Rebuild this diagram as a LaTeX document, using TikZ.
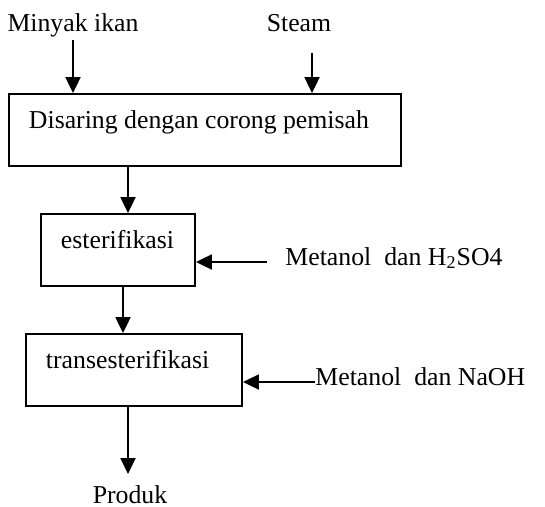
\documentclass[tikz,border=0pt]{standalone}
\usepackage{fontspec}
\setmainfont{Liberation Serif}
\usetikzlibrary{arrows.meta}

\begin{document}
\begin{tikzpicture}[%
  x=0.015cm, y=-0.015cm,
  font=\fontsize{11}{13}\selectfont,
  box/.style={draw, line width=0.8pt, inner xsep=3mm, text width=#1,
    align=flush left, minimum height=1.08cm, text height=2.4mm, text depth=3mm},
  arr/.style={line width=0.8pt, -{Triangle[length=6.8pt,width=6.4pt]}},
  lbl/.style={inner sep=0pt},
]
  \useasboundingbox (0,0) rectangle (545,506);

  % inputs
  \node[lbl, anchor=base] (minyak) at (73,31) {Minyak ikan};
  \node[lbl, anchor=base] (steam) at (299,31) {Steam};

  % process steps
  \node[box=5.28cm] (disaring) at (205,130) {Disaring dengan corong pemisah};
  \node[box=1.71cm] (ester) at (118,250) {esterifikasi};
  \node[box=2.64cm] (trans) at (134,370) {transesterifikasi};

  \node[lbl, anchor=base west] (h2so4) at (285,265) {Metanol\ \ dan H\textsubscript{2}SO4};
  \node[lbl, anchor=base west] (naoh) at (315,385) {Metanol\ \ dan NaOH};
  \node[lbl, anchor=base] (produk) at (130,503) {Produk};

  \coordinate (minyakin) at (73,40);
  \coordinate (steamin) at (312,53);
  \coordinate (lineA) at (128,0);
  \coordinate (lineB) at (123,0);
  \coordinate (h2so4in) at (267,262);
  \coordinate (naohin) at (315,382);
  \coordinate (produkin) at (128,474);

  \draw[arr] (minyakin) -- (minyakin |- disaring.north);
  \draw[arr] (steamin) -- (steamin |- disaring.north);
  \draw[arr] (disaring.south -| lineA) -- (ester.north -| lineA);
  \draw[arr] (h2so4in) -- (h2so4in -| ester.east);
  \draw[arr] (ester.south -| lineB) -- (trans.north -| lineB);
  \draw[arr] (naohin) -- (naohin -| trans.east);
  \draw[arr] (trans.south -| produkin) -- (produkin);

\end{tikzpicture}
\end{document}
